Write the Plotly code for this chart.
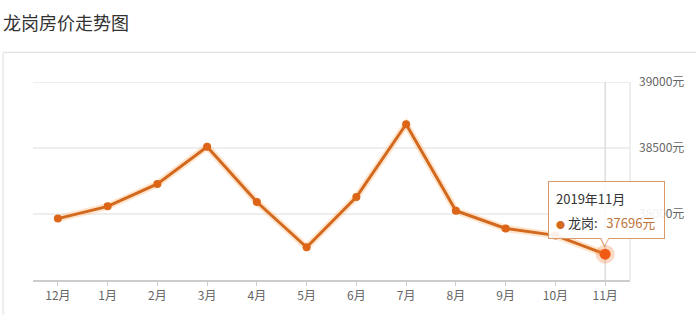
import plotly.graph_objects as go

months = ["12月", "1月", "2月", "3月", "4月", "5月", "6月", "7月", "8月", "9月", "10月", "11月"]
prices = [37965, 38058, 38228, 38510, 38091, 37748, 38128, 38680, 38025, 37890, 37838, 37696]
y_ticks = [38000, 38500, 39000]
y_min = 37500
series_name = "龙岗"
tooltip_title = "2019年11月"

FONT = "Noto Sans CJK SC, Microsoft YaHei, sans-serif"
LINE = "#d2691e"
TIP_BORDER = "#d99a6c"

W, H = 696, 315
L, R, T, B = 33, 64, 82, 33
pw, ph = W - L - R, H - T - B

def px_x(px):
    return (px - L) / pw

def px_y(py):
    return (H - B - py) / ph

fig = go.Figure()

# glow under the line
fig.add_trace(go.Scatter(x=months, y=prices, mode="lines",
                         line=dict(color="rgba(255,170,90,0.3)", width=7),
                         hoverinfo="skip", showlegend=False))
fig.add_trace(go.Scatter(x=months, y=prices, mode="lines+markers",
                         line=dict(color=LINE, width=3),
                         marker=dict(color="#dc6518", size=8),
                         hoverinfo="skip", showlegend=False))
# highlighted last point
fig.add_trace(go.Scatter(x=[months[-1]], y=[prices[-1]], mode="markers",
                         marker=dict(color="rgba(245,130,60,0.3)", size=19),
                         hoverinfo="skip", showlegend=False))
fig.add_trace(go.Scatter(x=[months[-1]], y=[prices[-1]], mode="markers",
                         marker=dict(color="#f05a14", size=11),
                         hoverinfo="skip", showlegend=False))

shapes = [
    # card border
    dict(type="rect", xref="paper", yref="paper", x0=px_x(3), x1=px_x(710),
         y0=px_y(330), y1=px_y(52), line=dict(color="#dddddd", width=1), layer="below"),
    # right border of plot
    dict(type="line", xref="paper", yref="paper", x0=1, x1=1, y0=0, y1=1,
         line=dict(color="#dddddd", width=1), layer="below"),
    # axis pointer
    dict(type="line", xref="x", yref="paper", x0=len(months) - 1, x1=len(months) - 1,
         y0=0, y1=1, line=dict(color="#cccccc", width=1), layer="below"),
]
# horizontal grid lines
for v in y_ticks:
    shapes.append(dict(type="line", xref="paper", yref="y", x0=0, x1=1, y0=v, y1=v,
                       line=dict(color="#dddddd", width=1), layer="below"))

last_x = len(months) - 1
last_y = prices[-1]
anchor = dict(xref="x", yref="y", x=last_x, y=last_y, showarrow=False)

annotations = [
    # tooltip box
    dict(**anchor, text=" ", width=105, height=46, xanchor="center", yanchor="bottom",
         xshift=1, yshift=15, bgcolor="rgba(255,255,255,0.9)",
         bordercolor=TIP_BORDER, borderwidth=1, borderpad=5),
    # pointer
    dict(**anchor, text="▼", xanchor="center", yanchor="middle", yshift=12,
         font=dict(family="DejaVu Sans", size=12, color=TIP_BORDER)),
    dict(**anchor, text="▼", xanchor="center", yanchor="middle", yshift=13.5,
         font=dict(family="DejaVu Sans", size=10, color="white")),
    # tooltip texts
    dict(**anchor, text=tooltip_title, xanchor="left", yanchor="middle",
         xshift=-51, yshift=56, font=dict(family=FONT, size=13, color="#333333")),
    dict(**anchor,
         text=(f"<span style='color:#d2691e;font-size:9px'>●</span> {series_name}:   "
               f"<span style='color:#c0733c'>{last_y}元</span>"),
         xanchor="left", yanchor="middle", xshift=-51, yshift=32,
         font=dict(family=FONT, size=13, color="#333333")),
]

fig.update_layout(
    width=W, height=H,
    margin=dict(l=L, r=R, t=T, b=B),
    paper_bgcolor="white", plot_bgcolor="white",
    font=dict(family=FONT, size=12, color="#666666"),
    title=dict(text="龙岗房价走势图", xref="container", yref="container",
               x=3 / W, y=1 - 24 / H, xanchor="left", yanchor="middle",
               font=dict(family=FONT, size=18, color="#333333")),
    xaxis=dict(type="category", range=[-0.5, len(months) - 0.5],
               showgrid=False, showline=True, linecolor="#cccccc", linewidth=2,
               ticks="outside", ticklen=4, tickcolor="#cccccc",
               tickfont=dict(size=12, color="#666666"), zeroline=False),
    yaxis=dict(side="right", range=[y_min, max(y_ticks)], tickvals=y_ticks,
               ticktext=[f"{v}元" for v in y_ticks], showgrid=False,
               showline=False, zeroline=False, ticks="", ticklabelstandoff=8,
               tickfont=dict(size=12, color="#666666")),
    shapes=shapes, annotations=annotations,
)

fig.write_html("out.html")
